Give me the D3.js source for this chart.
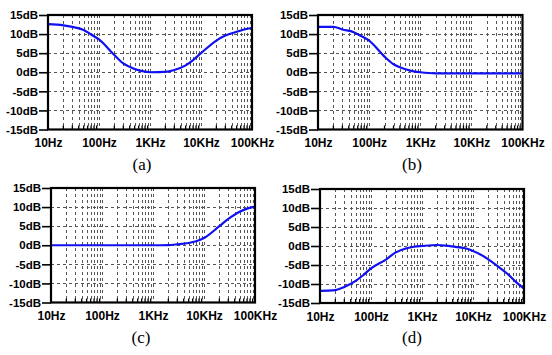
<!DOCTYPE html>
<html><head><meta charset="utf-8">
<script src="https://cdn.jsdelivr.net/npm/d3@7"></script>
<style>
html,body{margin:0;padding:0;background:#fff;}
svg{display:block;}
</style></head>
<body>
<svg id="chart" width="552" height="355"></svg>
<script>
// ---- data ----
const freqs = [10,20,30,50,70,100,200,300,500,700,1000,2000,3000,5000,7000,10000,20000,30000,50000,70000,100000];
const seriesA = [12.6,12.3,11.9,11.1,9.9,8.6,4.5,2.3,0.85,0.3,0.0,0.1,0.6,1.8,3.2,5.0,8.3,9.6,10.6,11.2,11.6];
const seriesB = [11.9,11.9,11.2,10.5,9.5,8.3,4.1,2.1,0.85,0.3,0.0,-0.3,-0.3,-0.3,-0.3,-0.3,-0.3,-0.3,-0.3,-0.3,-0.3];
const seriesC = [0,0,0,0,0,0,0,0,0,0,0,0.05,0.25,0.6,1.05,1.9,5.0,6.9,8.8,9.6,10.1];
const seriesD = [-11.8,-11.6,-10.8,-9.2,-7.7,-5.9,-3.5,-1.75,-0.6,-0.2,0,0.26,0.1,-0.3,-0.6,-1.3,-3.5,-5.25,-7.6,-9.5,-11.2];
const panelLabels = ["(a)","(b)","(c)","(d)"];
const xTickValues = [10,100,1000,10000,100000];
const xTickLabels = ["10Hz","100Hz","1KHz","10KHz","100KHz"];
const yTickValues = [15,10,5,0,-5,-10,-15];
const yTickLabels = ["15dB","10dB","5dB","0dB","-5dB","-10dB","-15dB"];

// ---- layout ----
const panels = [
  {series: seriesA, x0:48,  x1:252,   y0:15,  y1:129.5, lx:142},
  {series: seriesB, x0:318, x1:522.5, y0:15,  y1:129.5, lx:412},
  {series: seriesC, x0:51,  x1:255,   y0:188, y1:302.5, lx:141},
  {series: seriesD, x0:320, x1:524,   y0:189, y1:303,   lx:412}
];

const svg = d3.select("#chart");
const minorFreqs = [];
for (let d = 10; d < 100000; d *= 10) for (let k = 2; k <= 9; k++) minorFreqs.push(d*k);

panels.forEach((p, i) => {
  const x = d3.scaleLog().domain([10,100000]).range([p.x0, p.x1]);
  const y = d3.scaleLinear().domain([-15,15]).range([p.y1, p.y0]);
  const g = svg.append("g");

  // grid
  const grid = g.append("g").attr("stroke","#555").attr("stroke-width",1).attr("stroke-dasharray","3,3");
  grid.selectAll(".vmin").data(minorFreqs).join("line")
    .attr("x1", d => Math.round(x(d))+0.5).attr("x2", d => Math.round(x(d))+0.5)
    .attr("y1", p.y0).attr("y2", p.y1);
  grid.selectAll(".vmaj").data(xTickValues.slice(1,-1)).join("line")
    .attr("x1", d => Math.round(x(d))+0.5).attr("x2", d => Math.round(x(d))+0.5)
    .attr("y1", p.y0).attr("y2", p.y1);
  grid.selectAll(".h").data(yTickValues.slice(1,-1)).join("line")
    .attr("x1", p.x0).attr("x2", p.x1)
    .attr("y1", d => Math.round(y(d))+0.5).attr("y2", d => Math.round(y(d))+0.5);

  // minor ticks on bottom (inward)
  g.append("g").attr("stroke","#000").attr("stroke-width",1.3)
    .selectAll("line").data(minorFreqs).join("line")
    .attr("x1", d => x(d)).attr("x2", d => x(d))
    .attr("y1", p.y1).attr("y2", p.y1 - 4);

  // curve
  const line = d3.line().x((d,j) => x(freqs[j])).y(d => y(d)).curve(d3.curveMonotoneX);
  g.append("path").datum(p.series)
    .attr("fill","none").attr("stroke","#1010f0").attr("stroke-width",2.2)
    .attr("d", line);

  // frame
  g.append("rect").attr("x",p.x0).attr("y",p.y0)
    .attr("width",p.x1-p.x0).attr("height",p.y1-p.y0)
    .attr("fill","none").attr("stroke","#000").attr("stroke-width",2.2);

  // y axis
  const ya = g.append("g").attr("transform",`translate(${p.x0},0)`)
    .call(d3.axisLeft(y).tickValues(yTickValues).tickSize(9).tickPadding(1)
      .tickFormat((d,j) => yTickLabels[j]));
  ya.select(".domain").remove();
  ya.selectAll(".tick line").attr("stroke","#000").attr("stroke-width",1.6);
  ya.selectAll("text").attr("font-family","'Liberation Sans', Arial, sans-serif")
    .attr("font-weight","bold").attr("font-size","11.5px").attr("fill","#000");

  // x axis
  const xa = g.append("g").attr("transform",`translate(0,${p.y1})`)
    .call(d3.axisBottom(x).tickValues(xTickValues).tickSize(0).tickPadding(9)
      .tickFormat((d,j) => xTickLabels[j]));
  xa.select(".domain").remove();
  xa.selectAll("text").attr("font-family","'Liberation Sans', Arial, sans-serif")
    .attr("font-weight","bold").attr("font-size","12px").attr("fill","#000");

  // panel label
  g.append("text").attr("x", p.lx).attr("y", p.y1 + 40)
    .attr("text-anchor","middle")
    .attr("font-family","'Liberation Serif', 'Times New Roman', serif")
    .attr("font-size","17px").attr("fill","#000")
    .text(panelLabels[i]);
});
</script>
</body></html>
